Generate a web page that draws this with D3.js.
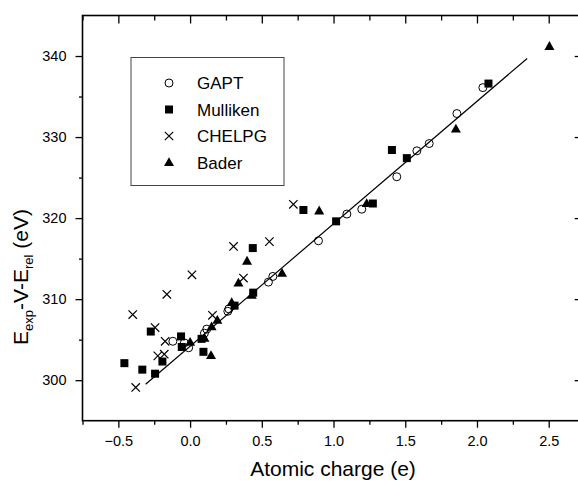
<!DOCTYPE html>
<html>
<head>
<meta charset="utf-8">
<script src="https://cdn.jsdelivr.net/npm/d3@7"></script>
<style>
  body { margin: 0; background: #fff; }
  svg text { font-family: "Liberation Sans", Arial, sans-serif; fill: #000; }
</style>
</head>
<body>
<div id="graphicContainer"></div>
<script>

// Data

const gaptX = [-0.12, -0.04, -0.01, 0.10, 0.116, 0.263, 0.27, 0.546, 0.577, 0.895, 1.093, 1.197, 1.441, 1.581, 1.667, 1.86, 2.041]
const gaptY = [304.8, 304.6, 304.0, 305.8, 306.3, 308.5, 308.8, 312.1, 312.8, 317.2, 320.5, 321.1, 325.1, 328.3, 329.2, 332.9, 336.1]

const mullikenX = [-0.458, -0.333, -0.244, -0.274, -0.193, -0.063, -0.058, 0.08, 0.093, 0.31, 0.44, 0.437, 0.79, 1.018, 1.274, 1.407, 1.511, 2.08]
const mullikenY = [302.1, 301.3, 300.8, 306.0, 302.3, 305.4, 304.1, 305.1, 303.5, 309.2, 310.8, 316.3, 321.0, 319.6, 321.8, 328.4, 327.4, 336.6]

const chelpgX = [-0.40, -0.379, -0.244, -0.225, -0.18, -0.174, -0.162, 0.013, 0.156, 0.303, 0.372, 0.553, 0.72]
const chelpgY = [308.1, 299.1, 306.5, 303.0, 303.2, 304.8, 310.6, 313.0, 308.0, 316.5, 312.6, 317.1, 321.7]

const baderX = [0.0, 0.10, 0.146, 0.15, 0.19, 0.29, 0.337, 0.397, 0.43, 0.641, 0.90, 1.231, 1.853, 2.505]
const baderY = [304.7, 305.2, 303.05, 306.6, 307.4, 309.6, 312.0, 314.7, 310.5, 313.2, 320.9, 321.8, 331.0, 341.2]

// fitted line end points
const fitX = [-0.31, 2.35]
const fitY = [299.5, 339.7]

const xMajor = [-0.5, 0.0, 0.5, 1.0, 1.5, 2.0, 2.5]
const xMinor = [-0.75, -0.25, 0.25, 0.75, 1.25, 1.75, 2.25]
const yMajor = [300, 310, 320, 330, 340]
const yMinor = [305, 315, 325, 335]

const seriesNames = ["GAPT", "Mulliken", "CHELPG", "Bader"]

const svgWidth = 578
const svgHeight = 481

const plotLeft = 82.5, plotRight = 581.7, plotTop = 15.5, plotBottom = 420.7

const svg = d3.select("#graphicContainer")
  .append("svg")
  .attr("width", svgWidth)
  .attr("height", svgHeight)

const x = d3.scaleLinear().domain([-0.75, 2.73]).range([plotLeft, plotRight])
const y = d3.scaleLinear().domain([295, 345]).range([plotBottom, plotTop])

// axes: outward ticks bottom/left, inward ticks top/right
const fmt = d3.format(".1f")

const addAxis = (axis, tx, ty, values, size, labels) => {
  const g = svg.append("g")
    .attr("transform", `translate(${tx},${ty})`)
    .call(axis.tickValues(values).tickSize(size).tickSizeOuter(0)
      .tickPadding(5)
      .tickFormat(labels ? labels : ""))
  g.select(".domain").remove()
  g.selectAll(".tick line").attr("stroke", "#000").attr("stroke-width", 1.3)
  return g
}

const bx = addAxis(d3.axisBottom(x), 0, plotBottom, xMajor, 7, d => d === 0 ? "0.0" : fmt(d))
bx.selectAll("text").style("font-size", "14.5px").attr("dy", "0.95em")
addAxis(d3.axisBottom(x), 0, plotBottom, xMinor, 4, null)

addAxis(d3.axisBottom(x), 0, plotTop, xMajor, 8, null)
addAxis(d3.axisBottom(x), 0, plotTop, xMinor, 5, null)

const ly = addAxis(d3.axisLeft(y), plotLeft, 0, yMajor, 7, d3.format("d"))
ly.selectAll("text").style("font-size", "14.5px").attr("x", -16)
addAxis(d3.axisLeft(y), plotLeft, 0, yMinor, 3.5, null)

addAxis(d3.axisLeft(y), plotRight, 0, yMajor, 7, null)
addAxis(d3.axisLeft(y), plotRight, 0, yMinor, 3.5, null)

// frame
svg.append("rect")
  .attr("x", plotLeft)
  .attr("y", plotTop)
  .attr("width", plotRight - plotLeft)
  .attr("height", plotBottom - plotTop)
  .attr("fill", "none")
  .attr("stroke", "#000")
  .attr("stroke-width", 1.6)

// fitted line
svg.append("line")
  .attr("x1", x(fitX[0])).attr("y1", y(fitY[0]))
  .attr("x2", x(fitX[1])).attr("y2", y(fitY[1]))
  .attr("stroke", "#000")
  .attr("stroke-width", 1.2)

const zip = (xs, ys) => xs.map((v, i) => ({ x: v, y: ys[i] }))

// marker painters
const drawCircle = (g, cx, cy) => g.append("circle")
  .attr("cx", cx).attr("cy", cy).attr("r", 4)
  .attr("fill", "none").attr("stroke", "#000").attr("stroke-width", 1)

const drawSquare = (g, cx, cy) => g.append("rect")
  .attr("x", cx - 4).attr("y", cy - 4).attr("width", 8).attr("height", 8)
  .attr("fill", "#000")

const drawCross = (g, cx, cy) => g.append("path")
  .attr("d", `M${cx - 4.2},${cy - 4.2}L${cx + 4.2},${cy + 4.2}M${cx - 4.2},${cy + 4.2}L${cx + 4.2},${cy - 4.2}`)
  .attr("stroke", "#000").attr("stroke-width", 1.2).attr("fill", "none")

const drawTriangle = (g, cx, cy) => g.append("path")
  .attr("d", `M${cx},${cy - 5.2}L${cx + 5},${cy + 3.6}L${cx - 5},${cy + 3.6}Z`)
  .attr("fill", "#000")

const painters = [drawCircle, drawSquare, drawCross, drawTriangle]
const series = [zip(gaptX, gaptY), zip(mullikenX, mullikenY), zip(chelpgX, chelpgY), zip(baderX, baderY)]

const marks = svg.append("g")
series.forEach((pts, s) => {
  pts.forEach(p => painters[s](marks, x(p.x), y(p.y)))
})

// legend
const legend = svg.append("g")
legend.append("rect")
  .attr("x", 131).attr("y", 57.5)
  .attr("width", 153).attr("height", 128)
  .attr("fill", "#fff")
  .attr("stroke", "#444")
  .attr("stroke-width", 1)

seriesNames.forEach((name, i) => {
  const cy = 83 + i * 26.5
  painters[i](legend, 169, cy)
  legend.append("text")
    .attr("x", 197)
    .attr("y", cy + 6)
    .style("font-size", "17px")
    .text(name)
})

// axis titles
svg.append("text")
  .attr("x", 333)
  .attr("y", 476)
  .attr("text-anchor", "middle")
  .style("font-size", "21px")
  .text("Atomic charge (e)")

const yTitle = svg.append("text")
  .attr("transform", "translate(28,277) rotate(-90)")
  .attr("text-anchor", "middle")
  .style("font-size", "21px")

yTitle.append("tspan").text("E")
yTitle.append("tspan").attr("dy", 5).style("font-size", "13px").text("exp")
yTitle.append("tspan").attr("dy", -5).text("-V-E")
yTitle.append("tspan").attr("dy", 5).style("font-size", "13px").text("rel")
yTitle.append("tspan").attr("dy", -5).text(" (eV)")

</script>
</body>
</html>
